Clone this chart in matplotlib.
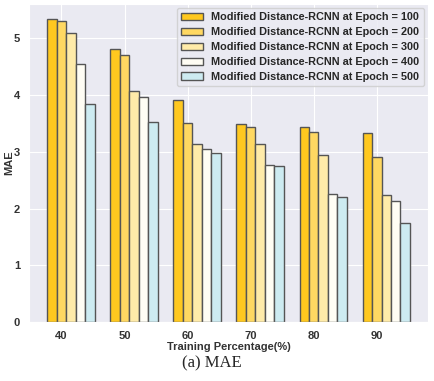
import matplotlib
matplotlib.use("Agg")
import matplotlib.pyplot as plt
import matplotlib.font_manager as fm
import seaborn as sns
import numpy as np
import os

categories = ["40", "50", "60", "70", "80", "90"]
series_labels = ["Modified Distance-RCNN at Epoch = 100",
                 "Modified Distance-RCNN at Epoch = 200",
                 "Modified Distance-RCNN at Epoch = 300",
                 "Modified Distance-RCNN at Epoch = 400",
                 "Modified Distance-RCNN at Epoch = 500"]
epoch_100 = [5.34, 4.82, 3.92, 3.49, 3.43, 3.33]
epoch_200 = [5.31, 4.71, 3.51, 3.43, 3.35, 2.90]
epoch_300 = [5.09, 4.08, 3.14, 3.14, 2.95, 2.24]
epoch_400 = [4.55, 3.97, 3.05, 2.77, 2.26, 2.14]
epoch_500 = [3.85, 3.53, 2.98, 2.75, 2.21, 1.75]

colours = ["#FFC81F", "#FFD862", "#FFEBA9", "#FFFDF4", "#CDEBF1"]

# regular-width Liberation Sans Bold (Arial look-alike)
bold_path = None
for f in fm.findSystemFonts():
    if os.path.basename(f) == "LiberationSans-Bold.ttf":
        bold_path = f
        break

def bold_font(size):
    if bold_path:
        return fm.FontProperties(fname=bold_path, size=size)
    return fm.FontProperties(family="DejaVu Sans", weight="bold", size=size)

sns.set_style("darkgrid")
plt.rcParams['font.family'] = ['Liberation Sans', 'DejaVu Sans']

fig = plt.figure(figsize=(4.35, 3.81), dpi=100)
ax = fig.add_axes([0.067, 0.155, 0.917, 0.835])

x = np.arange(len(categories))
w = 0.15
for k, (vals, col, lab) in enumerate(zip([epoch_100, epoch_200, epoch_300, epoch_400, epoch_500], colours, series_labels)):
    ax.bar(x + k * w, vals, width=w, color=col, edgecolor="#555555", linewidth=1.0, label=lab)

ax.set_xticks(x + w)
ax.set_xticklabels(categories)
ax.set_ylim(0, 5.61)
ax.set_yticks([0, 1, 2, 3, 4, 5])
ax.tick_params(axis="both", colors="#333333", pad=3)
for t in ax.get_xticklabels() + ax.get_yticklabels():
    t.set_fontproperties(bold_font(8))
    t.set_color("#333333")

ax.set_xlabel("Training Percentage(%)", fontproperties=bold_font(8), color="#333333", labelpad=1)
ax.set_ylabel("MAE", fontproperties=bold_font(8), color="#333333", labelpad=0)

ax.legend(loc="upper right", prop=bold_font(7.8), handlelength=2.0,
          borderaxespad=0.4, labelspacing=0.45, framealpha=0.8)

fig.text(0.488, 0.047, "(a) MAE", family="Liberation Serif", fontsize=12, ha="center", va="center")

fig.savefig("out.png", dpi=100)
